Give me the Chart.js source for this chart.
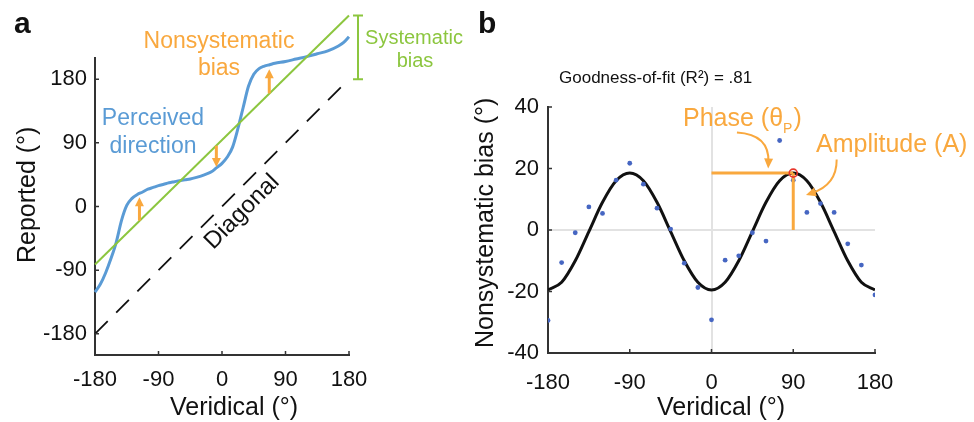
<!DOCTYPE html>
<html>
<head>
<meta charset="utf-8">
<script src="https://cdn.jsdelivr.net/npm/chart.js@4.4.1/dist/chart.umd.min.js"></script>
<style>
  html, body { margin: 0; padding: 0; background: #fff; }
  #wrap { position: relative; width: 974px; height: 422px; }
  #chartA { position: absolute; left: 0; top: 0; }
  #chartB { position: absolute; left: 460px; top: 0; }
</style>
</head>
<body>
<div id="wrap">
  <canvas id="chartA" width="480" height="422"></canvas>
  <canvas id="chartB" width="514" height="422"></canvas>
</div>
<script>
const FONT = "'Liberation Sans', Arial, Helvetica, sans-serif";
const ORANGE = "#f9a83e";
const BLUE = "#5a9bd5";
const GREEN = "#8cc63f";
const AXIS = "#333333";
const INK = "#111111";

// panel a: reported vs veridical
const perceivedX = [-180, -172.5, -165, -157.5, -150, -142.5, -135, -127.5, -120, -112.5, -105, -97.5, -90, -82.5, -75, -67.5, -60, -52.5, -45, -37.5, -30, -22.5, -15, -7.5, 0, 7.5, 15, 22.5, 30, 37.5, 45, 52.5, 60, 67.5, 75, 90, 105, 120, 135, 150, 165, 172.5, 180];
const perceivedY = [-121, -110, -94, -74, -51, -20, 1.5, 11.5, 17, 20.5, 24.5, 27, 29.5, 31.5, 33.5, 35, 36.5, 37.8, 39, 40.8, 43, 45.7, 49, 55, 61, 70, 84, 110, 140, 170, 187, 195, 198.5, 200.5, 202.5, 205, 208.5, 212, 216, 220, 227, 232, 240];
const systematicX = [-180, 180];
const systematicY = [-82, 270];
const diagonalX = [-180, 180];
const diagonalY = [-180, 180];
const ticksA = [-180, -90, 0, 90, 180];
const biasArrowX = [-117, -8, 67];
const biasArrowFrom = [-20, 86, 160];
const biasArrowTo = [13, 56, 194];
const systematicRange = [180, 270];

// panel b: nonsystematic bias
const veridicalB = [-180, -165, -150, -135, -120, -105, -90, -75, -60, -45, -30, -15, 0, 15, 30, 45, 60, 75, 90, 105, 120, 135, 150, 165, 180];
const fitCurve = [-19.5, -17, -10, -0.5, 9, 16, 18.5, 16, 9, -0.5, -10, -17, -19.5, -17, -10, -0.5, 9, 16, 18.5, 16, 9, -0.5, -10, -17, -19.5];
const observedBias = [-29.4, -10.6, -0.9, 7.5, 5.4, 16.2, 21.7, 14.9, 7.1, 0.3, -10.8, -18.7, -29.2, -9.8, -8.4, -0.9, -3.6, 29.1, 16.2, 5.7, 8.6, 5.7, -4.5, -11.4, -21.1];
const ticksBx = [-180, -90, 0, 90, 180];
const ticksBy = [-40, -20, 0, 20, 40];
const phaseX = [0, 90];
const peakBias = 18.5;

const pts = (xs, ys) => xs.map((x, i) => ({ x, y: ys[i] }));

function axis(ticks, min, max, size, pad) {
  return {
    type: "linear", min, max,
    afterBuildTicks: (s) => { s.ticks = ticks.map((v) => ({ value: v })); },
    afterFit: (s) => { if (s.isHorizontal()) s.height = size; else s.width = size; },
    ticks: { font: { family: FONT, size: 22 }, color: INK, padding: pad, maxRotation: 0, autoSkip: false, callback: (v) => String(v) },
    grid: { display: false, drawTicks: false },
    border: { display: true, color: AXIS, width: 2 }
  };
}

function text(ctx, str, x, y, size, color, align = "left", weight = "normal") {
  ctx.font = `${weight} ${size}px ${FONT}`;
  ctx.fillStyle = color;
  ctx.textAlign = align;
  ctx.textBaseline = "alphabetic";
  ctx.fillText(str, x, y);
}

function arrowHead(ctx, tx, ty, angle, len, half) {
  const c = Math.cos(angle), s = Math.sin(angle);
  const bx = tx - len * c, by = ty - len * s;
  ctx.beginPath();
  ctx.moveTo(tx, ty);
  ctx.lineTo(bx - half * s, by + half * c);
  ctx.lineTo(bx + half * s, by - half * c);
  ctx.closePath();
  ctx.fill();
}

const innerTicks = {
  id: "innerTicks",
  afterDraw(chart) {
    const { ctx, chartArea: a, scales: { x, y } } = chart;
    ctx.save();
    ctx.strokeStyle = AXIS;
    ctx.lineWidth = 1.5;
    ctx.beginPath();
    x.ticks.forEach((t) => { const px = x.getPixelForValue(t.value); ctx.moveTo(px, a.bottom); ctx.lineTo(px, a.bottom - 4); });
    y.ticks.forEach((t) => { const py = y.getPixelForValue(t.value); ctx.moveTo(a.left, py); ctx.lineTo(a.left + 4, py); });
    ctx.stroke();
    ctx.restore();
  }
};

const annotA = {
  id: "annotA",
  afterDatasetsDraw(chart) {
    const { ctx, scales: { x, y } } = chart;
    ctx.save();
    // nonsystematic bias arrows
    ctx.strokeStyle = ORANGE;
    ctx.fillStyle = ORANGE;
    ctx.lineWidth = 3;
    biasArrowX.forEach((v, i) => {
      const px = x.getPixelForValue(v);
      const y0 = y.getPixelForValue(biasArrowFrom[i]);
      const y1 = y.getPixelForValue(biasArrowTo[i]);
      const dir = Math.sign(y1 - y0);
      ctx.beginPath();
      ctx.moveTo(px, y0);
      ctx.lineTo(px, y1 - dir * 7);
      ctx.stroke();
      arrowHead(ctx, px, y1, dir > 0 ? Math.PI / 2 : -Math.PI / 2, 9, 4.5);
    });
    // systematic bias bracket
    const bx = x.getPixelForValue(180) + 9;
    const b0 = y.getPixelForValue(systematicRange[0]);
    const b1 = y.getPixelForValue(systematicRange[1]);
    ctx.strokeStyle = GREEN;
    ctx.lineWidth = 2;
    ctx.beginPath();
    ctx.moveTo(bx, b0); ctx.lineTo(bx, b1);
    ctx.moveTo(bx - 5, b0); ctx.lineTo(bx + 5, b0);
    ctx.moveTo(bx - 5, b1); ctx.lineTo(bx + 5, b1);
    ctx.stroke();
    ctx.restore();
  },
  afterDraw(chart) {
    const { ctx } = chart;
    ctx.save();
    text(ctx, "a", 14, 33, 30, INK, "left", "bold");
    text(ctx, "Nonsystematic", 219, 48, 23, ORANGE, "center");
    text(ctx, "bias", 219, 75, 23, ORANGE, "center");
    text(ctx, "Perceived", 153, 125, 23, BLUE, "center");
    text(ctx, "direction", 153, 153, 23, BLUE, "center");
    text(ctx, "Systematic", 414, 44, 20, GREEN, "center");
    text(ctx, "bias", 415, 67, 20, GREEN, "center");
    text(ctx, "Veridical (°)", 170, 415, 25, INK, "left");
    ctx.save();
    ctx.translate(35, 263);
    ctx.rotate(-Math.PI / 2);
    text(ctx, "Reported (°)", 0, 0, 25, INK, "left");
    ctx.restore();
    ctx.save();
    ctx.translate(242, 212);
    ctx.rotate(-Math.PI / 4);
    ctx.font = `24px ${FONT}`;
    ctx.fillStyle = INK;
    ctx.textAlign = "center";
    ctx.textBaseline = "middle";
    ctx.fillText("Diagonal", 0, 0);
    ctx.restore();
    ctx.restore();
  }
};

const annotB = {
  id: "annotB",
  afterDraw(chart) {
    const { ctx, scales: { x, y } } = chart;
    const P = (vx, vy) => [x.getPixelForValue(vx), y.getPixelForValue(vy)];
    ctx.save();
    ctx.strokeStyle = ORANGE;
    ctx.fillStyle = ORANGE;
    ctx.lineWidth = 2;
    [
      [[28, 31.7], [64, 31.1], [62.4, 20]],
      [[137.8, 22.9], [138, 14.6], [104, 11.4]]
    ].forEach(([s, c, t]) => {
      const [sx, sy] = P(...s), [cx, cy] = P(...c), [tx, ty] = P(...t);
      const ang = Math.atan2(ty - cy, tx - cx);
      ctx.beginPath();
      ctx.moveTo(sx, sy);
      ctx.quadraticCurveTo(cx, cy, tx - 6 * Math.cos(ang), ty - 6 * Math.sin(ang));
      ctx.stroke();
      arrowHead(ctx, tx, ty, ang, 10, 4.5);
    });
    text(ctx, "b", 18, 33, 30, INK, "left", "bold");
    text(ctx, "Goodness-of-fit (R²) = .81", 99, 83, 17, INK, "left");
    text(ctx, "Phase (θ", 223, 126, 25, ORANGE, "left");
    ctx.font = `25px ${FONT}`;
    const w = ctx.measureText("Phase (θ").width;
    text(ctx, "P", 223 + w, 133, 14, ORANGE, "left");
    ctx.font = `14px ${FONT}`;
    const wp = ctx.measureText("P").width;
    text(ctx, ")", 223 + w + wp + 1, 126, 25, ORANGE, "left");
    text(ctx, "Amplitude (A)", 356, 152, 25, ORANGE, "left");
    text(ctx, "Veridical (°)", 197, 415, 25, INK, "left");
    ctx.save();
    ctx.translate(33, 348);
    ctx.rotate(-Math.PI / 2);
    text(ctx, "Nonsystematic bias (°)", 0, 0, 25, INK, "left");
    ctx.restore();
    ctx.restore();
  }
};

new Chart(document.getElementById("chartA"), {
  type: "line",
  data: {
    datasets: [
      { data: pts(systematicX, systematicY), borderColor: GREEN, borderWidth: 2, pointRadius: 0, clip: false, order: 0 },
      { data: pts(perceivedX, perceivedY), borderColor: BLUE, borderWidth: 3, pointRadius: 0, cubicInterpolationMode: "monotone", clip: false, order: 1 },
      { data: pts(diagonalX, diagonalY), borderColor: INK, borderWidth: 1.8, borderDash: [18, 12], pointRadius: 0, clip: false, order: 2 }
    ]
  },
  options: {
    responsive: false,
    animation: false,
    events: [],
    layout: { padding: { left: 0, right: 131, top: 58, bottom: 0 } },
    scales: {
      x: axis(ticksA, -180, 180, 67, 12),
      y: axis(ticksA, -210, 210, 95, 8)
    },
    plugins: { legend: { display: false }, tooltip: { enabled: false } }
  },
  plugins: [innerTicks, annotA]
});

const yB = axis(ticksBy, -40, 40, 88, 9);
const xB = axis(ticksBx, -180, 180, 69, 17);
const zeroGrid = { display: true, drawTicks: false, lineWidth: 2, color: (c) => (c.tick && c.tick.value === 0 ? "#e2e2e2" : "rgba(0,0,0,0)") };
yB.grid = zeroGrid;
xB.grid = zeroGrid;

new Chart(document.getElementById("chartB"), {
  type: "line",
  data: {
    datasets: [
      { data: [{ x: 90, y: peakBias }], borderColor: "#e8362c", backgroundColor: "rgba(0,0,0,0)", borderWidth: 1.6, pointRadius: 4, showLine: false, order: 0 },
      { data: pts(phaseX, [peakBias, peakBias]), borderColor: ORANGE, borderWidth: 3, pointRadius: 0, order: 1 },
      { data: pts([90, 90], [0, peakBias]), borderColor: ORANGE, borderWidth: 3, pointRadius: 0, order: 1 },
      { type: "scatter", data: pts(veridicalB, observedBias), backgroundColor: "#4666c2", borderWidth: 0, pointRadius: 2.4, order: 2 },
      { data: pts(veridicalB, fitCurve), borderColor: INK, borderWidth: 3, pointRadius: 0, cubicInterpolationMode: "monotone", order: 3 }
    ]
  },
  options: {
    responsive: false,
    animation: false,
    events: [],
    layout: { padding: { left: 0, right: 99, top: 107, bottom: 0 } },
    scales: { x: xB, y: yB },
    plugins: { legend: { display: false }, tooltip: { enabled: false } }
  },
  plugins: [innerTicks, annotB]
});
</script>
</body>
</html>
